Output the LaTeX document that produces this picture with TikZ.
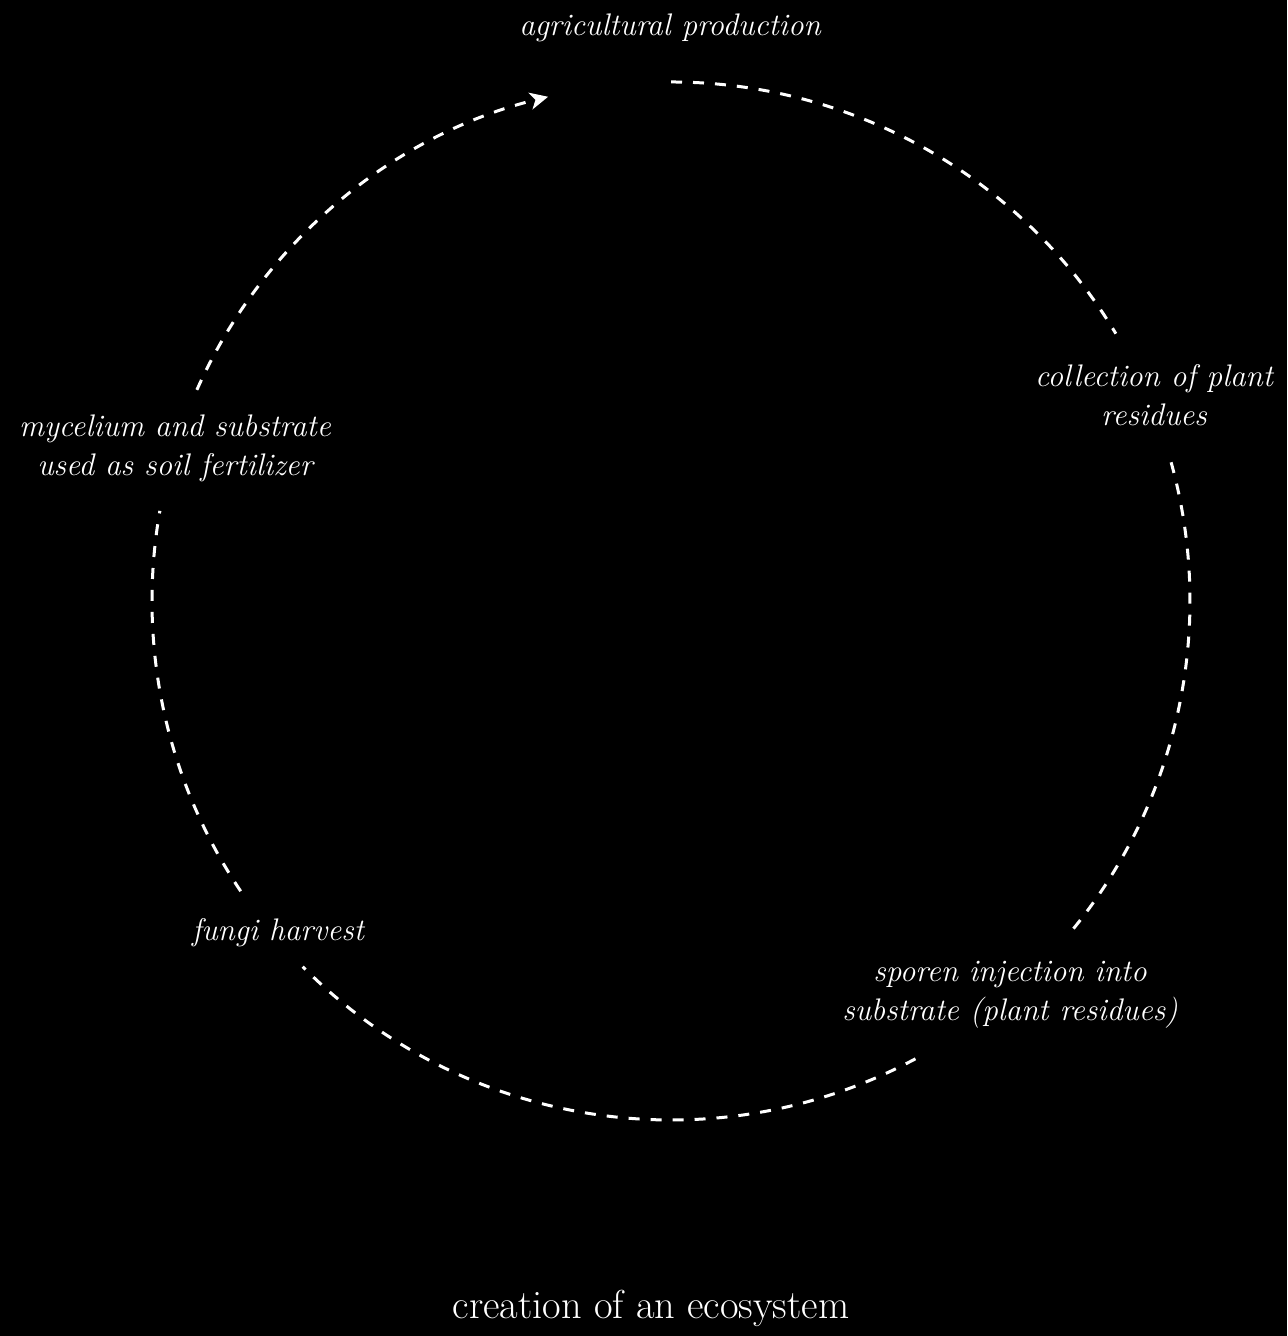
\documentclass[tikz,border=0pt]{standalone}
\usetikzlibrary{arrows.meta,calc}
\begin{document}
\begin{tikzpicture}[x=0.5pt,y=0.5pt,
  flow/.style={draw=white,line width=1.5pt,dash pattern=on 5.5pt off 5.5pt},
  lbl/.style={text=white,align=center,inner sep=0pt,font=\fontsize{15.6}{19.5}\selectfont\itshape},
  ttl/.style={text=white,inner sep=0pt,font=\fontsize{20.2}{24}\selectfont}]
\fill[black] (0,0) rectangle (1287,1336);
\useasboundingbox (0,0) rectangle (1287,1336);
\coordinate (c) at (671,735);
\def\R{259.5pt}
\node[lbl] (agri) at (670,1308) {agricultural production};
\node[lbl] (coll) at (1154,941) {collection of plant\\residues};
\node[lbl] (myc) at (175,888) {mycelium and substrate\\used as soil fertilizer};
\node[lbl] (fungi) at (278,403) {fungi harvest};
\node[lbl] (spor) at (1010,341) {sporen injection into\\substrate (plant residues)};
\node[ttl] (title) at (651,28) {creation of an ecosystem};
\coordinate (a1) at ($(c)+(90:\R)$);
\coordinate (a2) at ($(c)+(15.5:\R)$);
\coordinate (a3) at ($(c)+(-61.9:\R)$);
\coordinate (a4) at ($(c)+(-146:\R)$);
\coordinate (a5) at ($(c)+(156:\R)$);
\draw[flow] (a1) arc[start angle=90,end angle=31,radius=\R];
\draw[flow] (a2) arc[start angle=15.5,end angle=-39.8,radius=\R];
\draw[flow] (a3) arc[start angle=-61.9,end angle=-135.2,radius=\R];
\draw[flow] (a4) arc[start angle=-146,end angle=-190,radius=\R];
\draw[flow,-{Stealth[length=9pt,width=8.5pt,inset=2.5pt]}] (a5) arc[start angle=156,end angle=103.7,radius=\R];
\end{tikzpicture}
\end{document}
